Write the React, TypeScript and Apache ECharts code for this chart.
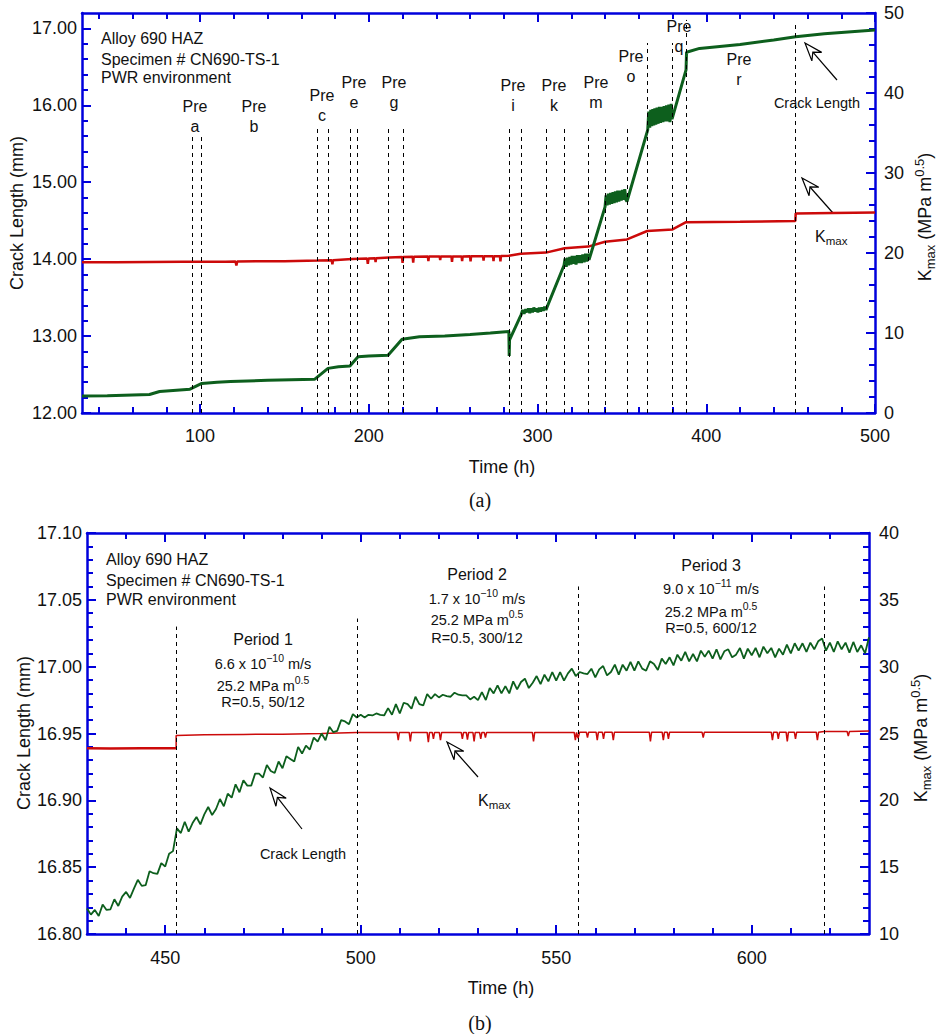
import React, { useEffect, useRef } from "react";
import * as echarts from "echarts";

const FONT = '"Liberation Sans", Arial, Helvetica, sans-serif';
const SERIF = '"Liberation Serif", "Times New Roman", serif';
const BLUE = "#0000dc";
const GREEN = "#0d5f1d";
const RED = "#cc0a0a";
const INK = "#111111";

// ---------- Panel (a) data ----------
const topXMajor = [100, 200, 300, 400, 500];
const topXMinor = [40, 60, 80, 120, 140, 160, 180, 220, 240, 260, 280, 320, 340, 360, 380, 420, 440, 460, 480];
const topLeftMajor = [12, 13, 14, 15, 16, 17];
const topLeftMinor = [12.2, 12.4, 12.6, 12.8, 13.2, 13.4, 13.6, 13.8, 14.2, 14.4, 14.6, 14.8, 15.2, 15.4, 15.6, 15.8, 16.2, 16.4, 16.6, 16.8];
const topRightMajor = [0, 10, 20, 30, 40, 50];
const topRightMinor = [2, 4, 6, 8, 12, 14, 16, 18, 22, 24, 26, 28, 32, 34, 36, 38, 42, 44, 46, 48];

// crack length (mm) vs time (h)
const topCrackLength: [number, number][] = [
  [30, 12.22], [45, 12.225], [60, 12.235], [70, 12.24], [76, 12.28], [88, 12.3], [94, 12.31], [101, 12.385],
  [110, 12.4], [118, 12.41], [140, 12.425], [168, 12.44], [175.8, 12.58], [182, 12.6], [188.8, 12.61],
  [193.6, 12.73], [200, 12.74], [211.4, 12.75], [219.7, 12.96], [230, 12.99], [245, 13.0], [260, 13.02],
  [272, 13.04], [283, 13.06], [283.2, 12.74], [283.4, 12.95], [290.3, 13.28],
  [291.2, 13.34], [292, 13.29], [293, 13.35], [294, 13.31], [294.6, 13.36], [295.4, 13.3], [296.2, 13.36],
  [297, 13.31], [297.8, 13.37], [298.6, 13.32], [299.4, 13.36], [300.2, 13.31], [301, 13.37], [301.8, 13.32],
  [302.6, 13.37], [303.4, 13.33], [304.2, 13.38], [305, 13.34], [305.5, 13.37],
  [315.7, 13.92],
  [316.3, 14.01], [317, 13.9], [317.7, 14.02], [318.4, 13.92], [319.1, 14.03], [319.8, 13.93], [320.5, 14.04],
  [321.2, 13.94], [322, 14.04], [322.8, 13.93], [323.6, 14.05], [324.4, 13.95], [325.2, 14.05], [326, 13.95],
  [326.8, 14.06], [327.6, 13.96], [328.4, 14.07], [329.2, 13.97], [330, 14.07], [330.5, 13.99],
  [340, 14.68],
  [340.6, 14.83], [341.2, 14.7], [341.9, 14.85], [342.6, 14.71], [343.3, 14.86], [344, 14.72], [344.7, 14.87],
  [345.4, 14.73], [346.1, 14.88], [346.8, 14.74], [347.5, 14.89], [348.2, 14.75], [348.9, 14.89], [349.6, 14.76],
  [350.3, 14.9], [351, 14.77], [351.7, 14.91], [352.4, 14.77], [353, 14.75],
  [365.3, 15.68],
  [365.9, 15.92], [366.5, 15.71], [367.1, 15.94], [367.7, 15.73], [368.3, 15.95], [368.9, 15.74], [369.5, 15.96],
  [370.1, 15.75], [370.8, 15.97], [371.5, 15.76], [372.2, 15.98], [372.9, 15.77], [373.6, 15.98], [374.3, 15.78],
  [375, 15.99], [375.7, 15.79], [376.4, 16.0], [377.1, 15.79], [377.8, 16.01], [378.5, 15.78], [379.2, 16.02],
  [379.7, 15.82],
  [388, 16.46], [388.3, 16.69], [396, 16.74], [420, 16.79], [440, 16.85], [453, 16.89], [470, 16.93], [500, 16.98],
];

// K max (MPa m^0.5) vs time (h)
const topKmax: [number, number][] = [
  [30, 18.85], [50, 18.85], [70, 18.87], [90, 18.9], [100, 18.9], [115, 18.92], [121, 18.95], [121.5, 18.45],
  [122, 18.95], [150, 18.97], [170, 19.05], [178, 19.1], [178.4, 18.6], [178.8, 19.1], [190, 19.25],
  [199, 19.3], [199.4, 18.65], [199.8, 19.3], [203.7, 19.35], [204, 18.85], [204.3, 19.35], [212, 19.45],
  [219.7, 19.5], [220, 18.75], [220.3, 19.5], [226, 19.52], [226.3, 18.8], [226.6, 19.52], [235, 19.55],
  [235.3, 19.0], [235.6, 19.55], [242, 19.55], [242.3, 19.1], [242.6, 19.55], [249, 19.55], [249.3, 18.9],
  [249.6, 19.55], [255, 19.57], [255.3, 19.0], [255.6, 19.57], [260, 19.58], [260.3, 18.95], [260.6, 19.58],
  [267.7, 19.6], [268, 19.05], [268.3, 19.6], [273.6, 19.6], [273.9, 19.0], [274.2, 19.6], [277.7, 19.6],
  [278, 18.95], [278.3, 19.62], [283, 19.65], [290, 19.9], [305, 20.05], [316, 20.6], [330, 20.8], [340, 21.4],
  [353, 21.7], [365, 22.75], [380, 22.95], [388, 23.85], [420, 23.9], [452.8, 24.0], [453, 24.95], [475, 25.0],
  [500, 25.05],
];

const topPreLineHours = [95.2, 100.5, 169.3, 175.8, 188.8, 193, 211.4, 220.3, 283.1, 290.2, 305, 315.7, 329.9, 340, 353, 364.9, 379.7, 388, 453];
const topPreLineTopMm = [15.64, 15.64, 15.74, 15.74, 15.74, 15.74, 15.74, 15.74, 15.74, 15.74, 15.74, 15.74, 15.74, 15.74, 15.74, 16.81, 16.81, 17.11, 17.08];
const preLetters = ["a", "b", "c", "e", "g", "i", "k", "m", "o", "q", "r"];

// ---------- Panel (b) data ----------
const botXMajor = [450, 500, 550, 600];
const botXMinor = [440, 460, 470, 480, 490, 510, 520, 530, 540, 560, 570, 580, 590, 610, 620];
const botLeftMajor = [16.8, 16.85, 16.9, 16.95, 17.0, 17.05, 17.1];
const botLeftMinor = [16.81, 16.82, 16.83, 16.84, 16.86, 16.87, 16.88, 16.89, 16.91, 16.92, 16.93, 16.94, 16.96, 16.97, 16.98, 16.99, 17.01, 17.02, 17.03, 17.04, 17.06, 17.07, 17.08, 17.09];
const botRightMajor = [10, 15, 20, 25, 30, 35, 40];
const botRightMinor = [11, 12, 13, 14, 16, 17, 18, 19, 21, 22, 23, 24, 26, 27, 28, 29, 31, 32, 33, 34, 36, 37, 38, 39];

// crack length (mm), one reading per hour from 430 h
const botCrackStartHour = 430;
const botCrackMm = [
  16.819, 16.8145, 16.818, 16.8135, 16.822, 16.818, 16.8185, 16.826, 16.821, 16.828,
  16.8315, 16.827, 16.834, 16.8405, 16.836, 16.8365, 16.847, 16.8455, 16.845, 16.853,
  16.8505, 16.86, 16.862, 16.879, 16.8755, 16.884, 16.8765, 16.883, 16.8875, 16.882,
  16.8895, 16.895, 16.889, 16.8935, 16.901, 16.8955, 16.905, 16.902, 16.912, 16.906,
  16.915, 16.911, 16.911, 16.92, 16.92, 16.917, 16.9265, 16.922, 16.9205, 16.929,
  16.924, 16.933, 16.931, 16.929, 16.94, 16.935, 16.941, 16.938, 16.947, 16.944,
  16.95, 16.945, 16.955, 16.951, 16.952, 16.96, 16.959, 16.957, 16.9645, 16.962,
  16.964, 16.962, 16.964, 16.9635, 16.965, 16.964, 16.9635, 16.969, 16.964, 16.972,
  16.965, 16.973, 16.972, 16.9685, 16.9775, 16.972, 16.971, 16.9795, 16.976, 16.9795,
  16.977, 16.979, 16.978, 16.9775, 16.9805, 16.979, 16.9785, 16.9785, 16.9755, 16.9775,
  16.975, 16.981, 16.975, 16.984, 16.98, 16.986, 16.98, 16.9855, 16.98, 16.989,
  16.983, 16.9885, 16.991, 16.984, 16.988, 16.993, 16.987, 16.994, 16.989, 16.996,
  16.9895, 16.996, 16.9895, 16.995, 16.9985, 16.993, 16.996, 16.995, 16.9945, 16.9985,
  16.992, 16.998, 17.0005, 16.9935, 16.996, 17.0015, 16.994, 17.0015, 16.997, 17.0035,
  16.997, 17.004, 16.9985, 16.997, 17.004, 17.002, 16.9975, 17.006, 17.002, 17.007,
  17.001, 17.009, 17.0045, 17.011, 17.004, 17.0095, 17.004, 17.012, 17.0075, 17.012,
  17.006, 17.013, 17.0055, 17.0115, 17.013, 17.007, 17.009, 17.014, 17.006, 17.0135,
  17.0085, 17.014, 17.007, 17.015, 17.01, 17.014, 17.007, 17.0135, 17.009, 17.0165,
  17.01, 17.0175, 17.012, 17.0175, 17.011, 17.018, 17.013, 17.019, 17.021, 17.012,
  17.018, 17.011, 17.019, 17.013, 17.018, 17.0105, 17.0185, 17.011, 17.016, 17.01, 17.022,
];

const botKmaxBefore: [number, number][] = [[430, 23.9], [436, 23.88], [444, 23.9], [452.8, 23.9]];
const botKmaxAfter: [number, number][] = [
  [452.8, 23.9], [452.8, 24.85], [460, 24.9], [470, 24.93], [480, 24.95], [490, 25.0], [499, 25.08], [505, 25.08],
  [509.3, 25.08], [509.6, 24.5], [509.9, 25.08], [512.4, 25.08], [512.7, 24.4], [513, 25.08], [517, 25.08],
  [517.3, 24.35], [517.6, 25.08], [518.3, 25.08], [518.6, 24.6], [518.9, 25.08], [520.1, 25.08], [520.4, 24.5],
  [520.7, 25.08], [525.7, 25.08], [526, 24.6], [526.3, 25.08], [527, 25.08], [527.3, 24.55], [527.6, 25.08],
  [528.7, 25.08], [529, 24.4], [529.3, 25.08], [530.4, 25.08], [530.7, 24.6], [531, 25.08], [531.6, 25.08],
  [531.9, 24.7], [532.2, 25.08], [543.9, 25.08], [544.2, 24.4], [544.5, 25.08], [554.6, 25.08], [554.9, 24.5],
  [555.2, 25.08], [555.6, 24.65], [556, 25.1], [557.7, 25.1], [558, 24.7], [558.3, 25.1], [560.2, 25.1],
  [560.5, 24.5], [560.8, 25.1], [561.8, 25.1], [562.1, 24.6], [562.4, 25.1], [564.3, 25.1], [564.6, 24.5],
  [564.9, 25.1], [573.8, 25.1], [574.1, 24.4], [574.4, 25.1], [577.1, 25.1], [577.4, 24.5], [577.7, 25.1],
  [578.4, 25.1], [578.7, 24.6], [579, 25.1], [587.3, 25.1], [587.6, 24.7], [587.9, 25.1], [605, 25.1],
  [605.3, 24.5], [605.6, 25.1], [606.5, 25.1], [606.8, 24.6], [607.1, 25.1], [608.8, 25.1], [609.1, 24.4],
  [609.4, 25.1], [610.9, 25.1], [611.2, 24.6], [611.5, 25.1], [616.5, 25.1], [616.8, 24.5], [617.1, 25.1],
  [618.5, 25.15], [620, 25.15], [624.4, 25.15], [624.7, 24.8], [625, 25.15], [630, 25.18],
];

const botPeriodLineHours = [452.8, 499, 555.7, 618.6];
const botPeriodLineTopMm = [17.03, 17.036, 17.06, 17.06];
const periodNames = ["Period 1", "Period 2", "Period 3"];
const periodRates = ["6.6 x 10", "1.7 x 10", "9.0 x 10"];
const periodRateExp = ["\u221210", "\u221210", "\u221211"];
const periodHold = ["R=0.5, 50/12", "R=0.5, 300/12", "R=0.5, 600/12"];

const specimenLines = ["Alloy 690 HAZ", "Specimen # CN690-TS-1", "PWR environment"];

// ---------- layout (pixels) ----------
const G0 = { left: 82, top: 13, width: 793, height: 400 };
const G1 = { left: 87, top: 533, width: 782, height: 401 };
const prePos: [number, number][] = [
  [195, 116.5], [254, 116.5], [322, 105], [354, 92.5], [394, 92.5], [513, 95.5], [554, 95.5], [596, 92.5], [631, 66], [679, 36], [739, 69.5],
];
const periodX = [263, 477, 711];
const periodY = [639, 574, 565];
const periodGaps = [[25, 47, 63], [25, 46, 64], [24, 47, 63]];

function axis(grid: number, position: string, min: number, max: number, ticks: number[], tickLen: number, opt: any = {}) {
  return {
    type: "value",
    gridIndex: grid,
    position,
    min,
    max,
    axisLine: { show: !!opt.line, onZero: false, lineStyle: { color: BLUE, width: 2.5 } },
    axisTick: { show: true, inside: true, length: tickLen, customValues: ticks, lineStyle: { color: BLUE, width: 2 } },
    minorTick: { show: false },
    splitLine: { show: false },
    axisPointer: { show: false },
    axisLabel: opt.labels
      ? {
          show: true,
          customValues: opt.labels,
          formatter: opt.fmt,
          margin: opt.margin,
          padding: opt.padding || 0,
          fontFamily: FONT,
          fontSize: 18,
          color: INK,
        }
      : { show: false },
  };
}

function txt(x: number, y: number, text: string, size = 16, align = "left", extra: any = {}, el: any = {}) {
  return {
    type: "text",
    x,
    y,
    silent: true,
    ...el,
    style: {
      text,
      fontSize: size,
      fontFamily: FONT,
      fill: INK,
      align,
      verticalAlign: "middle",
      textAlign: align,
      textVerticalAlign: "middle",
      ...extra,
    },
  };
}

function arrow(tail: [number, number], tip: [number, number]) {
  const dx = tip[0] - tail[0];
  const dy = tip[1] - tail[1];
  const len = Math.hypot(dx, dy);
  const ux = dx / len, uy = dy / len;
  const nx = -uy, ny = ux;
  const L = 18, W = 6.5, N = 12;
  const b1 = [tip[0] - L * ux + W * nx, tip[1] - L * uy + W * ny];
  const b2 = [tip[0] - L * ux - W * nx, tip[1] - L * uy - W * ny];
  const notch = [tip[0] - N * ux, tip[1] - N * uy];
  return [
    { type: "line", silent: true, shape: { x1: tail[0], y1: tail[1], x2: notch[0], y2: notch[1] }, style: { stroke: "#000", lineWidth: 1.2 } },
    { type: "polygon", silent: true, shape: { points: [tip, b1, notch, b2] }, style: { fill: "#fff", stroke: "#000", lineWidth: 1.2 } },
  ];
}

const kRich = (size: number) => ({
  b: { fontSize: size, fontFamily: FONT, fill: INK, lineHeight: size + 6, verticalAlign: "middle" },
  s: { fontSize: size * 0.72, fontFamily: FONT, fill: INK, lineHeight: size * 0.72, verticalAlign: "bottom" },
  p: { fontSize: size * 0.72, fontFamily: FONT, fill: INK, lineHeight: size * 0.72, verticalAlign: "top" },
});

function buildOption() {
  const botCrack = botCrackMm.map((v, i) => [botCrackStartHour + i, v]);

  const markLines = (hours: number[], tops: number[], bottom: number) => ({
    silent: true,
    symbol: ["none", "none"],
    label: { show: false },
    emphasis: { disabled: true },
    lineStyle: { type: [4, 4], color: "#000", width: 1 },
    data: hours.map((h, i) => [{ coord: [h, bottom] }, { coord: [h, tops[i]] }]),
  });

  const xAxis = [
    axis(0, "bottom", 30, 500, topXMajor, 9, { line: true, labels: topXMajor, margin: 14 }),
    axis(0, "bottom", 30, 500, topXMinor, 6),
    axis(0, "top", 30, 500, topXMajor, 9, { line: true }),
    axis(0, "top", 30, 500, topXMinor, 6),
    axis(1, "bottom", 430, 630, botXMajor, 9, { line: true, labels: botXMajor, margin: 15 }),
    axis(1, "bottom", 430, 630, botXMinor, 6),
    axis(1, "top", 430, 630, botXMajor, 9, { line: true }),
    axis(1, "top", 430, 630, botXMinor, 6),
  ];
  const yAxis = [
    axis(0, "left", 12, 17.2, topLeftMajor, 9, { line: true, labels: topLeftMajor, margin: 5, fmt: (v: number) => v.toFixed(2) }),
    axis(0, "left", 12, 17.2, topLeftMinor, 6),
    axis(0, "right", 0, 50, topRightMajor, 9, { line: true, labels: topRightMajor, margin: 9, padding: [7, 0, 0, 0] }),
    axis(0, "right", 0, 50, topRightMinor, 6),
    axis(1, "left", 16.8, 17.1, botLeftMajor, 9, { line: true, labels: botLeftMajor, margin: 5, padding: [7, 0, 0, 0], fmt: (v: number) => v.toFixed(2) }),
    axis(1, "left", 16.8, 17.1, botLeftMinor, 6),
    axis(1, "right", 10, 40, botRightMajor, 9, { line: true, labels: botRightMajor, margin: 10, padding: [8, 0, 0, 0] }),
    axis(1, "right", 10, 40, botRightMinor, 6),
  ];

  const series: any[] = [
    {
      type: "line", name: "Kmax (a)", xAxisIndex: 0, yAxisIndex: 2, data: topKmax, symbol: "none",
      lineStyle: { color: RED, width: 2.5 }, itemStyle: { color: RED }, z: 2,
    },
    {
      type: "line", name: "Crack length (a)", xAxisIndex: 0, yAxisIndex: 0, data: topCrackLength, symbol: "none",
      lineStyle: { color: GREEN, width: 3 }, itemStyle: { color: GREEN }, z: 3,
      markLine: markLines(topPreLineHours, topPreLineTopMm, 12),
    },
    {
      type: "line", name: "Kmax (b) before", xAxisIndex: 4, yAxisIndex: 6, data: botKmaxBefore, symbol: "none",
      lineStyle: { color: RED, width: 2.6 }, itemStyle: { color: RED }, z: 2,
    },
    {
      type: "line", name: "Kmax (b)", xAxisIndex: 4, yAxisIndex: 6, data: botKmaxAfter, symbol: "none",
      lineStyle: { color: RED, width: 1.5 }, itemStyle: { color: RED }, z: 2,
    },
    {
      type: "line", name: "Crack length (b)", xAxisIndex: 4, yAxisIndex: 4, data: botCrack, symbol: "none",
      lineStyle: { color: GREEN, width: 1.8 }, itemStyle: { color: GREEN }, z: 3,
      markLine: markLines(botPeriodLineHours, botPeriodLineTopMm, 16.8),
    },
  ];

  const elements: any[] = [];
  // panel (a) annotations
  specimenLines.forEach((s, i) => elements.push(txt(101, [38, 59, 77][i], s, 16)));
  preLetters.forEach((l, i) =>
    elements.push(txt(prePos[i][0], prePos[i][1], "Pre\n" + l, 16, "center", { lineHeight: 20 }))
  );
  elements.push(txt(817, 103, "Crack Length", 14.5, "center"));
  elements.push(...arrow([837, 80], [805, 43]));
  elements.push(txt(815, 236, "{b|K}{s|max}", 16, "left", { rich: kRich(16) }));
  elements.push(...arrow([833, 213], [802, 178]));
  elements.push(txt(17, 213, "Crack Length (mm)", 18, "center", {}, { rotation: Math.PI / 2 }));
  elements.push(
    txt(925, 217, "{b|K}{s|max}{b| (MPa m}{p|0.5}{b|)}", 18, "center", { rich: kRich(18) }, { rotation: Math.PI / 2 })
  );
  elements.push(txt(502, 467, "Time (h)", 18, "center"));
  elements.push(txt(480, 500, "(a)", 20, "center", { fontFamily: SERIF }));

  // panel (b) annotations
  specimenLines.forEach((s, i) => elements.push(txt(106, [559, 580, 599][i], s, 16)));
  periodNames.forEach((p, i) => {
    const x = periodX[i];
    const y = periodY[i];
    elements.push(txt(x, y, p, 16, "center"));
    elements.push(txt(x, y + periodGaps[i][0], "{b|" + periodRates[i] + "}{p|" + periodRateExp[i] + "}{b| m/s}", 14, "center", { rich: kRich(14.5) }));
    elements.push(txt(x, y + periodGaps[i][1], "{b|25.2 MPa m}{p|0.5}", 14, "center", { rich: kRich(14.5) }));
    elements.push(txt(x, y + periodGaps[i][2], periodHold[i], 14.5, "center"));
  });
  elements.push(txt(303, 854, "Crack Length", 14.5, "center"));
  elements.push(...arrow([302, 829], [270, 788]));
  elements.push(txt(478, 800, "{b|K}{s|max}", 16, "left", { rich: kRich(16) }));
  elements.push(...arrow([478, 777], [447, 742]));
  elements.push(txt(24, 733, "Crack Length (mm)", 18, "center", {}, { rotation: Math.PI / 2 }));
  elements.push(
    txt(921, 738, "{b|K}{s|max}{b| (MPa m}{p|0.5}{b|)}", 18, "center", { rich: kRich(18) }, { rotation: Math.PI / 2 })
  );
  elements.push(txt(501, 988, "Time (h)", 18, "center"));
  elements.push(txt(480, 1023, "(b)", 20, "center", { fontFamily: SERIF }));

  return {
    animation: false,
    backgroundColor: "#ffffff",
    grid: [
      { ...G0, containLabel: false, outerBoundsMode: "none" },
      { ...G1, containLabel: false, outerBoundsMode: "none" },
    ],
    xAxis,
    yAxis,
    series,
    graphic: { elements },
  };
}

export default function App() {
  const ref = useRef<HTMLDivElement>(null);
  useEffect(() => {
    document.body.style.margin = "0";
    const chart = echarts.init(ref.current!, null, { renderer: "svg" });
    chart.setOption(buildOption() as any);
    return () => chart.dispose();
  }, []);
  return <div ref={ref} style={{ width: 938, height: 1034, background: "#fff" }} />;
}
